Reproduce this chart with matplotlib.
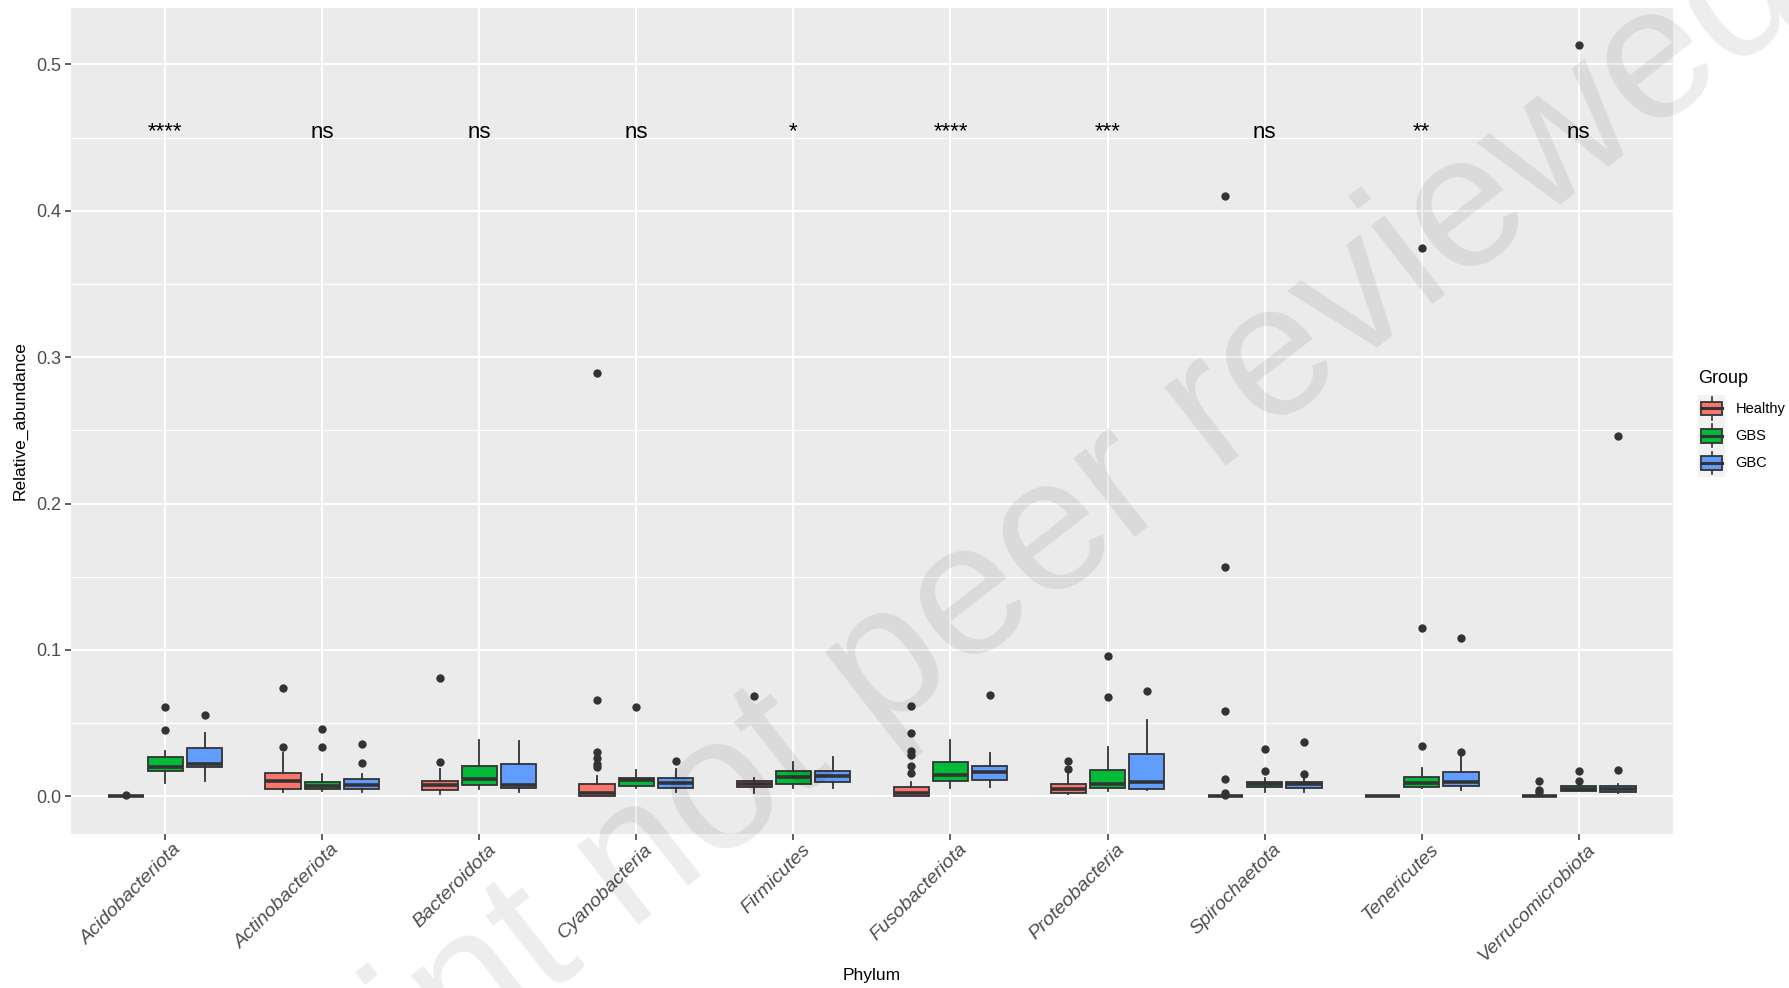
import matplotlib
matplotlib.use("Agg")
import matplotlib.pyplot as plt
from matplotlib.patches import Patch, Rectangle
from matplotlib.lines import Line2D
from matplotlib.legend_handler import HandlerBase
from matplotlib.transforms import ScaledTranslation
import numpy as np

plt.rcParams['font.family'] = ['Liberation Sans', 'DejaVu Sans']

phyla = ["Acidobacteriota", "Actinobacteriota", "Bacteroidota", "Cyanobacteria",
         "Firmicutes", "Fusobacteriota", "Proteobacteria", "Spirochaetota",
         "Tenericutes", "Verrucomicrobiota"]
groups = ["Healthy", "GBS", "GBC"]
group_colors = ["#F8766D", "#00BA38", "#619CFF"]
sig_labels = ["****", "ns", "ns", "ns", "*", "****", "***", "ns", "**", "ns"]

# (lower whisker, q1, median, q3, upper whisker) for each phylum
healthy_box = [
    (0.0, 0.0, 0.0001, 0.0003, 0.0005),
    (0.0027, 0.0052, 0.0104, 0.0161, 0.0297),
    (0.0016, 0.0041, 0.0077, 0.0107, 0.0184),
    (0.0, 0.0002, 0.0020, 0.0082, 0.0138),
    (0.0025, 0.0061, 0.0084, 0.0104, 0.0127),
    (0.0, 0.0002, 0.0020, 0.0063, 0.0100),
    (0.0016, 0.0023, 0.0050, 0.0086, 0.0156),
    (0.0, 0.0, 0.0001, 0.0003, 0.0006),
    (0.0, 0.0, 0.0001, 0.0002, 0.0004),
    (0.0, 0.0, 0.0001, 0.0003, 0.0008),
]
healthy_out = [
    [0.0008],
    [0.0338, 0.074],
    [0.0233, 0.081],
    [0.020, 0.022, 0.026, 0.030, 0.0655, 0.289],
    [0.0685],
    [0.0156, 0.0206, 0.0280, 0.0310, 0.0433, 0.0617],
    [0.0186, 0.0243],
    [0.0008, 0.002, 0.012, 0.058, 0.1564, 0.410],
    [],
    [0.003, 0.004, 0.0104],
]

gbs_box = [
    (0.0088, 0.0175, 0.0197, 0.0270, 0.0313),
    (0.0034, 0.0048, 0.0068, 0.0100, 0.0150),
    (0.0050, 0.0077, 0.0116, 0.0204, 0.0386),
    (0.0054, 0.0070, 0.0109, 0.0122, 0.0182),
    (0.0054, 0.0086, 0.0131, 0.0175, 0.0236),
    (0.0054, 0.0104, 0.0145, 0.0233, 0.0383),
    (0.0036, 0.0054, 0.0082, 0.0179, 0.0338),
    (0.0027, 0.0063, 0.0084, 0.0100, 0.0127),
    (0.0054, 0.0066, 0.0093, 0.0134, 0.0195),
    (0.0036, 0.0039, 0.0050, 0.0068, 0.0082),
]
gbs_out = [
    [0.045, 0.061],
    [0.0338, 0.0458],
    [],
    [0.061],
    [],
    [],
    [0.068, 0.0961],
    [0.0172, 0.032],
    [0.0347, 0.1152, 0.3744],
    [0.0104, 0.0172, 0.513],
]

gbc_box = [
    (0.0102, 0.0197, 0.0224, 0.0329, 0.0435),
    (0.0027, 0.0052, 0.0080, 0.0120, 0.0154),
    (0.0032, 0.0059, 0.0077, 0.0224, 0.0376),
    (0.0027, 0.0059, 0.0093, 0.0122, 0.0186),
    (0.0054, 0.0100, 0.0141, 0.0172, 0.0267),
    (0.0063, 0.0109, 0.0168, 0.0206, 0.0297),
    (0.0043, 0.0048, 0.0100, 0.0286, 0.0524),
    (0.0032, 0.0059, 0.0086, 0.0097, 0.0122),
    (0.0043, 0.0073, 0.0095, 0.0163, 0.0285),
    (0.0025, 0.0032, 0.0050, 0.0073, 0.0082),
]
gbc_out = [
    [0.0553],
    [0.0227, 0.0358],
    [],
    [0.0243],
    [],
    [0.0694],
    [0.0719],
    [0.0154, 0.0372],
    [0.030, 0.108],
    [0.0177, 0.2463],
]

all_box = [healthy_box, gbs_box, gbc_box]
all_out = [healthy_out, gbs_out, gbc_out]

DARK = "#333333"
PANEL = "#EBEBEB"


class BoxKey(HandlerBase):
    """legend key drawn as a small boxplot glyph"""
    def create_artists(self, legend, orig_handle, xdescent, ydescent,
                       width, height, fontsize, trans):
        x0, y0 = -xdescent, -ydescent
        fc = orig_handle.get_facecolor()
        bg = Rectangle((x0, y0), width, height, fc="#F2F2F2", ec="none",
                       transform=trans)
        xm = x0 + width / 2
        wl = Line2D([xm, xm], [y0 + height * 0.08, y0 + height * 0.92],
                    color=DARK, lw=1.2, transform=trans)
        box = Rectangle((x0 + width * 0.12, y0 + height * 0.25),
                        width * 0.76, height * 0.5, fc=fc, ec=DARK, lw=1.3,
                        transform=trans)
        med = Line2D([x0 + width * 0.12, x0 + width * 0.88],
                     [y0 + height / 2, y0 + height / 2],
                     color=DARK, lw=2.2, transform=trans)
        return [bg, wl, box, med]


fig = plt.figure(figsize=(17.89, 9.88), dpi=100)
ax = fig.add_axes([0.0397, 0.156, 0.8954, 0.836])
ax.set_facecolor(PANEL)

offsets = [-0.25, 0.0, 0.25]
for g in range(3):
    stats = []
    for i in range(len(phyla)):
        lo, q1, med, q3, hi = all_box[g][i]
        stats.append(dict(whislo=lo, q1=q1, med=med, q3=q3, whishi=hi,
                          fliers=all_out[g][i]))
    pos = np.arange(len(phyla)) + offsets[g]
    ax.bxp(stats, positions=pos, widths=0.225, patch_artist=True,
           showcaps=False, manage_ticks=False,
           boxprops=dict(facecolor=group_colors[g], edgecolor=DARK, lw=1.3),
           whiskerprops=dict(color=DARK, lw=1.3),
           medianprops=dict(color=DARK, lw=2.6),
           flierprops=dict(marker="o", markerfacecolor=DARK,
                           markeredgecolor="none", markersize=6))

for i, lab in enumerate(sig_labels):
    ax.text(i, 0.450, lab, ha="center", va="baseline", fontsize=16, color="black")

# ggplot-like limits: 5% padding around the data range
vals = [v for grp in all_box for b in grp for v in b]
vals += [v for grp in all_out for o in grp for v in o]
span = max(vals) - min(vals)
ax.set_ylim(min(vals) - 0.05 * span, max(vals) + 0.05 * span)
ax.set_xlim(-0.6, len(phyla) - 0.4)

ax.set_yticks(np.arange(0, 0.51, 0.1))
ax.set_yticks(np.arange(0.05, 0.51, 0.1), minor=True)
ax.set_yticklabels(["0.0", "0.1", "0.2", "0.3", "0.4", "0.5"])
ax.set_xticks(np.arange(len(phyla)))
ax.tick_params(axis="both", which="major", length=4, width=1.1, color=DARK,
               labelsize=13, labelcolor="#4D4D4D", pad=3)
ax.tick_params(axis="y", which="minor", length=0)
ax.grid(True, which="major", color="white", lw=1.5)
ax.grid(True, which="minor", axis="y", color="white", lw=0.8)
ax.set_axisbelow(True)
for s in ax.spines.values():
    s.set_visible(False)

# slanted phylum names below the ticks, nudged right like ggplot's hjust=1
shift = ScaledTranslation(0.08, -0.07, fig.dpi_scale_trans)
for i, name in enumerate(phyla):
    ax.text(i, 0, name, transform=ax.get_xaxis_transform() + shift,
            rotation=45, ha="right", va="top", rotation_mode="anchor",
            style="italic", fontsize=14, color="#4D4D4D")
ax.set_xticklabels([])

fig.text(0.4874, 0.013, "Phylum", ha="center", va="center", fontsize=12.5)
fig.text(0.0112, 0.574, "Relative_abundance", ha="center", va="center",
         rotation=90, fontsize=12.5)

handles = [Patch(facecolor=c, edgecolor=DARK, label=n)
           for c, n in zip(group_colors, groups)]
leg = fig.legend(handles=handles, title="Group", loc="upper left",
                 bbox_to_anchor=(0.949, 0.626), frameon=False, fontsize=10.5,
                 title_fontsize=13, handler_map={Patch: BoxKey()},
                 handlelength=1.9, handleheight=2.5, labelspacing=0.0,
                 handletextpad=0.7, borderpad=0, borderaxespad=0)
leg._legend_box.align = "left"
leg._legend_box.sep = 6

fig.text(0.525, 0.301, "Preprint not peer reviewed", rotation=38,
         rotation_mode="anchor", ha="center", va="baseline", fontsize=136,
         color="black", alpha=0.075, zorder=100)

fig.savefig("out.png", dpi=100)
